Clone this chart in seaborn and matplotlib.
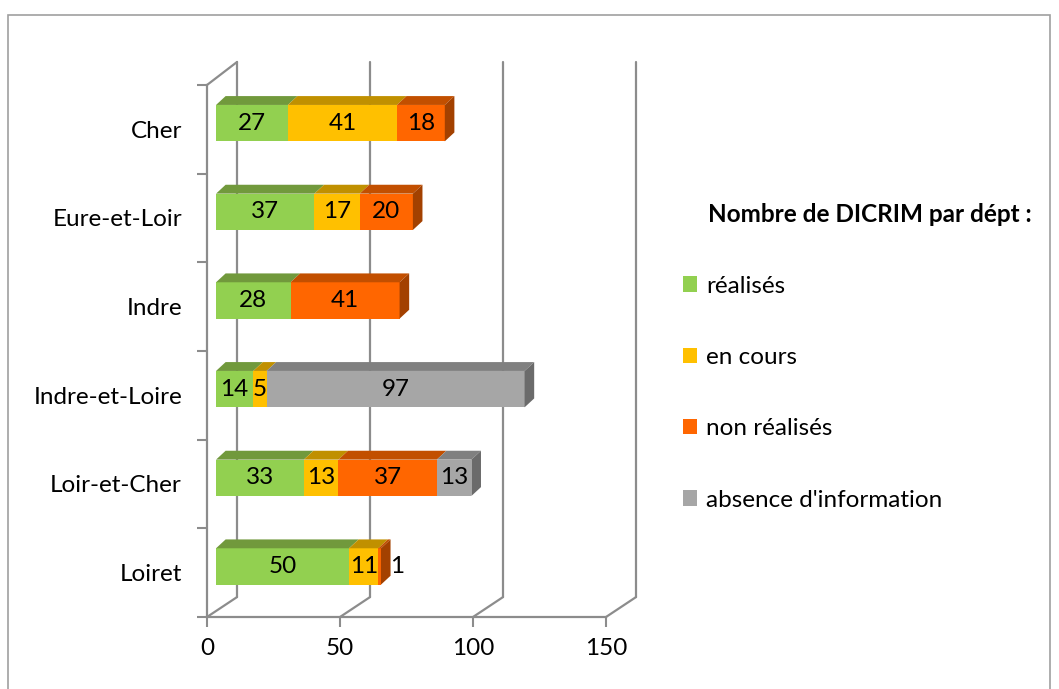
import numpy as np
import pandas as pd
import matplotlib
matplotlib.use("Agg")
import matplotlib.pyplot as plt
import seaborn as sns
from matplotlib.patches import Polygon, Patch, Rectangle

# data
departements = ['Cher', 'Eure-et-Loir', 'Indre', 'Indre-et-Loire', 'Loir-et-Cher', 'Loiret']
series_names = ['réalisés', 'en cours', 'non réalisés', "absence d'information"]
realises = [27, 37, 28, 14, 33, 50]
en_cours = [41, 17, 0, 5, 13, 11]
non_realises = [18, 20, 41, 0, 37, 1]
absence_info = [0, 0, 0, 97, 13, 0]
x_ticks = [0, 50, 100, 150]

front_colors = ['#92D050', '#FFC000', '#FF6600', '#A6A6A6']
top_colors = ['#71993C', '#C09000', '#C24F00', '#808080']
side_colors = ['#5F8232', '#A07800', '#A34100', '#6B6B6B']
wall_color = '#8C8C8C'
FS = 17.5

sns.set_style('white')
plt.rcParams['font.family'] = ['Lato', 'DejaVu Sans']
plt.rcParams['text.color'] = 'black'
plt.rcParams['xtick.labelcolor'] = 'black'
plt.rcParams['ytick.labelcolor'] = 'black'

W, H = 1059, 689
fig = plt.figure(figsize=(W / 100, H / 100), dpi=100)
ax = fig.add_axes([207 / W, (H - 617) / H, (606 - 207) / W, (617 - 85) / H])

df = pd.DataFrame({'dept': departements, 'r': realises, 'e': en_cours,
                   'n': non_realises, 'a': absence_info})
cols = ['r', 'e', 'n', 'a']
cum = df[cols].cumsum(axis=1)

# 3d look constants (in data units)
shift_x, lift = 3.4, 0.07
bar_h = 0.41
dx, dy = 3.6, 0.1
wall_dx, wall_dy = 11.3, 0.225
wall_top = -0.76

# front faces: overlapping cumulative bars, longest first
for k in reversed(range(4)):
    sns.barplot(x=cum[cols[k]], y=df['dept'], orient='h', color=front_colors[k],
                width=bar_h, linewidth=0, saturation=1, ax=ax, zorder=3)
for p in ax.patches:
    p.set_x(p.get_x() + shift_x)
    p.set_y(p.get_y() - lift)

# top and side faces + labels
for i in range(len(df)):
    yt = i - lift - bar_h / 2
    yb = i - lift + bar_h / 2
    left = shift_x
    last = None
    for k, c in enumerate(cols):
        v = df.loc[i, c]
        if v <= 0:
            continue
        right = left + v
        ax.add_patch(Polygon([(left, yt), (right, yt), (right + dx, yt - dy), (left + dx, yt - dy)],
                             closed=True, facecolor=top_colors[k], edgecolor='none', zorder=3))
        if v < 3:
            ax.text(right + dx * 1.0, i - lift, str(v), ha='left', va='center', fontsize=FS, zorder=5)
        else:
            ax.text(left + v / 2, i - lift, str(v), ha='center', va='center', fontsize=FS, zorder=5)
        last = (right, k)
        left = right
    right, k = last
    ax.add_patch(Polygon([(right, yt), (right + dx, yt - dy), (right + dx, yb - dy), (right, yb)],
                         closed=True, facecolor=side_colors[k], edgecolor='none', zorder=3))

# walls / gridlines
n = len(departements)
for v in x_ticks:
    ax.plot([v + wall_dx, v + wall_dx], [n - 0.5 - wall_dy, wall_top], color=wall_color, lw=1.6,
            zorder=1, clip_on=False)
    ax.plot([v, v + wall_dx], [n - 0.5, n - 0.5 - wall_dy], color=wall_color, lw=1.6,
            zorder=1, clip_on=False)
ax.plot([0, wall_dx], [-0.5, wall_top], color=wall_color, lw=1.6, zorder=1, clip_on=False)

ax.set_xlim(0, 150)
ax.set_ylim(n - 0.5, -0.5)
ax.set_xticks(x_ticks)
ax.set_xticklabels([str(v) for v in x_ticks], fontsize=FS)
ax.set_yticks(np.arange(-0.5, n, 1.0))
ax.set_yticklabels([])
ax.set_yticks(np.arange(n), minor=True)
ax.set_yticklabels(departements, minor=True, fontsize=FS)
ax.tick_params(axis='y', which='major', length=7, width=1.5, color=wall_color, left=True)
ax.tick_params(axis='y', which='minor', length=0, pad=18)
ax.tick_params(axis='x', length=7, width=1.5, color=wall_color, bottom=True, pad=8)
ax.set_xlabel('')
ax.set_ylabel('')
for s in ['top', 'right']:
    ax.spines[s].set_visible(False)
for s in ['left', 'bottom']:
    ax.spines[s].set_color(wall_color)
    ax.spines[s].set_linewidth(1.6)
ax.set_facecolor('none')

# legend
fig.text(708 / W, 1 - 215 / H, 'Nombre de DICRIM par dépt :', fontsize=FS, fontweight='bold',
         va='center', ha='left')
handles = [Patch(facecolor=c, edgecolor='none') for c in front_colors]
fig.legend(handles, series_names, loc='upper left', bbox_to_anchor=(673 / W, 1 - 266 / H),
           frameon=False, fontsize=FS, labelspacing=2.07, handlelength=0.6, handleheight=0.6,
           handletextpad=0.35, borderaxespad=0)

# chart area border
fig.patches.append(Rectangle((8 / W, -0.05), (1050 - 8) / W, 1.05 - 15 / H, transform=fig.transFigure,
                             fill=False, edgecolor='#A0A0A0', lw=1.2))

fig.savefig('out.png', dpi=100)
